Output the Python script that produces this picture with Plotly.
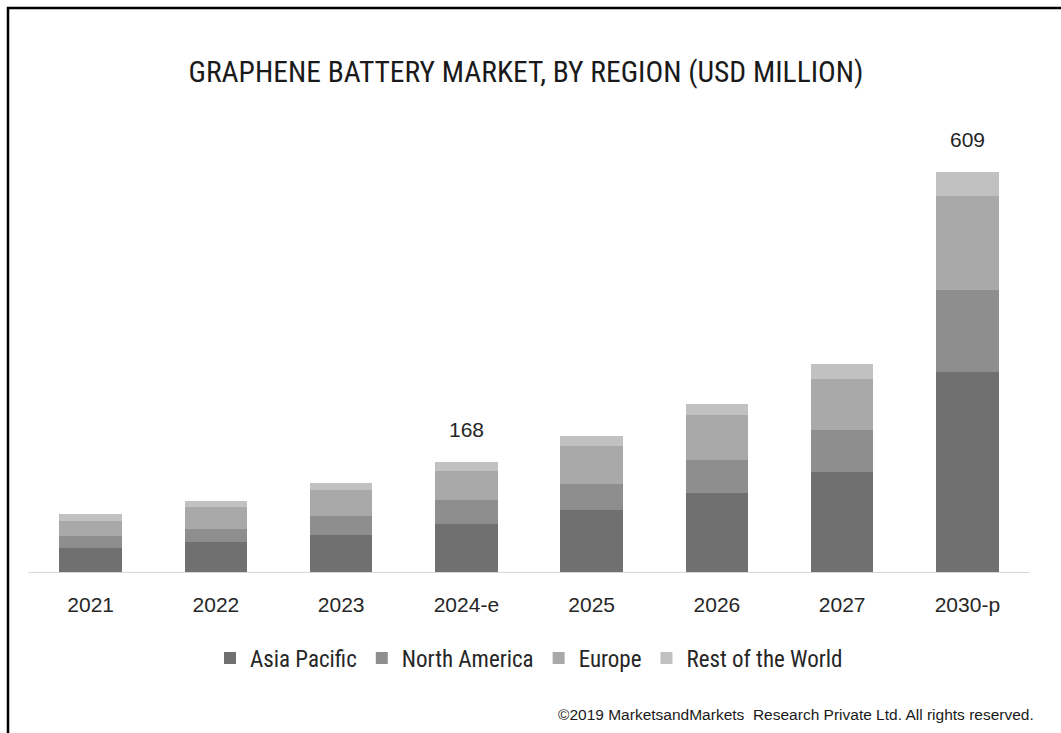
import plotly.graph_objects as go

years = ["2021", "2022", "2023", "2024-e", "2025", "2026", "2027", "2030-p"]
asia_pacific = [37.0, 45.7, 56.8, 73.5, 94.0, 120.0, 152.0, 305.0]
north_america = [17.7, 20.4, 29.0, 35.5, 40.5, 51.0, 63.5, 124.0]
europe = [22.8, 32.9, 38.5, 44.0, 58.0, 68.5, 78.7, 143.0]
rest_of_world = [10.2, 9.1, 11.3, 15.0, 14.0, 16.7, 22.8, 37.0]
total_labels = [None, None, None, "168", None, None, None, "609"]

series = [
    ("Asia Pacific", asia_pacific, "#707070"),
    ("North America", north_america, "#8e8e8e"),
    ("Europe", europe, "#a9a9a9"),
    ("Rest of the World", rest_of_world, "#c1c1c1"),
]

W, H = 1061, 733
ML, MR, MT, MB = 28, 31, 112, 161
PW, PH = W - ML - MR, H - MT - MB

def px_x(x):
    return (x - ML) / PW

def px_y(y):
    return (H - MB - y) / PH

NARROW = "Liberation Sans Narrow, Arial Narrow, Roboto Condensed, Arial, sans-serif"
REG = "Liberation Sans, Arial, sans-serif"

fig = go.Figure()
for name, vals, col in series:
    fig.add_trace(go.Bar(
        x=years, y=vals, name=name,
        marker=dict(color=col, line=dict(width=0)),
        width=0.5, hoverinfo="skip",
    ))

totals = [sum(v) for v in zip(asia_pacific, north_america, europe, rest_of_world)]
for yr, tot, lab in zip(years, totals, total_labels):
    if lab:
        fig.add_annotation(x=yr, y=tot, text=lab, showarrow=False,
                           yanchor="bottom", yshift=19,
                           font=dict(family=REG, size=21, color="#262626"))

fig.add_annotation(
    xref="paper", yref="paper", x=px_x(1036), y=px_y(714),
    xanchor="right", yanchor="middle", showarrow=False,
    text="©2019 MarketsandMarkets  Research Private Ltd. All rights reserved.",
    font=dict(family=REG, size=15.5, color="#1a1a1a"),
)

# outer frame (top and left visible, right/bottom cut off)
fig.add_shape(type="rect", xref="paper", yref="paper",
              x0=px_x(8), x1=px_x(1075), y0=px_y(760), y1=px_y(8),
              line=dict(color="#000000", width=2.5), layer="above")

fig.update_layout(
    width=W, height=H,
    margin=dict(l=ML, r=MR, t=MT, b=MB),
    paper_bgcolor="white", plot_bgcolor="white",
    barmode="stack",
    title=dict(text="GRAPHENE BATTERY MARKET, BY REGION (USD MILLION)",
               x=526 / W, xanchor="center", y=1 - 72 / H, yanchor="middle",
               yref="container", xref="container",
               font=dict(family=NARROW, size=29.5, color="#1a1a1a")),
    xaxis=dict(showline=True, linecolor="#d9d9d9", linewidth=1,
               showgrid=False, ticks="outside", ticklen=14,
               tickcolor="rgba(0,0,0,0)", zeroline=False,
               tickfont=dict(family=REG, size=21, color="#262626")),
    yaxis=dict(visible=False, range=[0, 700]),
    legend=dict(orientation="h", traceorder="normal",
                x=px_x(529), xanchor="center", y=px_y(658), yanchor="middle",
                font=dict(family=NARROW, size=23, color="#262626"),
                itemclick=False),
    showlegend=True,
)

fig.write_html("out.html")
